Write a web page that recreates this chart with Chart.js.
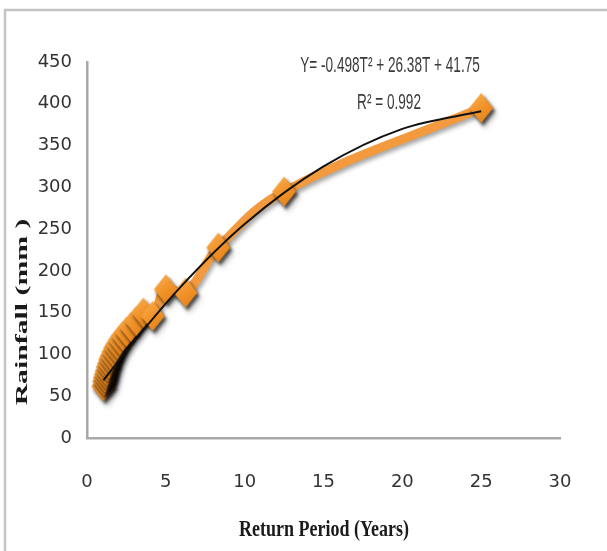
<!DOCTYPE html>
<html>
<head>
<meta charset="utf-8">
<script src="https://cdn.jsdelivr.net/npm/chart.js@4.4.1/dist/chart.umd.min.js"></script>
<style>
  html, body { margin: 0; padding: 0; background: #fff; }
  canvas { display: block; }
</style>
</head>
<body>
<canvas id="c" width="607" height="551"></canvas>
<script>
const returnPeriods = [1.04, 1.09, 1.14, 1.19, 1.25, 1.32, 1.39, 1.47, 1.56, 1.67, 1.79, 1.92,
                       2.08, 2.27, 2.5, 2.78, 3.125, 3.57, 4.17, 5, 6.25, 8.33, 12.5, 25];
const rainfall = [62, 68, 72, 76, 80, 85, 89, 94, 98, 103, 108, 112,
                  117, 122, 127, 133, 140, 150, 146, 178, 174, 228, 295, 395];
// Trend curve at a few return periods
const trendT = [1.04, 3, 6, 10, 15, 20, 25];
const trendY = [69, 116, 182, 256, 325, 370, 391];
const xTicks = [0, 5, 10, 15, 20, 25, 30];
const yTicks = [0, 50, 100, 150, 200, 250, 300, 350, 400, 450];
const equationText = 'Y= -0.498T\u00B2 + 26.38T + 41.75';
const r2Text = 'R\u00B2 = 0.992';
const xTitle = 'Return Period (Years)';
const yTitle = 'Rainfall (mm )';

const tickFamily = "'DejaVu Sans', 'Liberation Sans', sans-serif";
const sans = "'Liberation Sans', sans-serif";
const serif = "'Liberation Serif', 'DejaVu Serif', serif";

// Diamond marker image
function makeDiamond() {
  const w = 24, h = 30, pad = 6;
  const cv = document.createElement('canvas');
  cv.width = w + pad * 2; cv.height = h + pad * 2;
  const g = cv.getContext('2d');
  const cx = cv.width / 2, cy = cv.height / 2;
  g.shadowColor = 'rgba(0,0,0,0.55)';
  g.shadowBlur = 3; g.shadowOffsetX = 2; g.shadowOffsetY = 3;
  const grad = g.createLinearGradient(cx - w / 2, cy - h / 2, cx + w / 2, cy + h / 2);
  grad.addColorStop(0, '#f9b257');
  grad.addColorStop(0.5, '#f2932a');
  grad.addColorStop(1, '#e07c12');
  g.fillStyle = grad;
  g.beginPath();
  g.moveTo(cx, cy - h / 2);
  g.lineTo(cx + w / 2, cy);
  g.lineTo(cx, cy + h / 2);
  g.lineTo(cx - w / 2, cy);
  g.closePath();
  g.fill();
  return cv;
}
const diamond = makeDiamond();

const mainData = returnPeriods.map((t, i) => ({ x: t, y: rainfall[i] }));
const trendData = trendT.map((t, i) => ({ x: t, y: trendY[i] }));

const decor = {
  id: 'decor',
  beforeDraw(chart) {
    const ctx = chart.ctx;
    ctx.save();
    ctx.fillStyle = '#fff';
    ctx.fillRect(0, 0, chart.width, chart.height);
    ctx.strokeStyle = '#c4c4c4';
    ctx.lineWidth = 2.5;
    ctx.strokeRect(5, 10, 700, 700);
    ctx.restore();
  },
  beforeDatasetDraw(chart, args) {
    if (args.index === 1) {
      const ctx = chart.ctx;
      ctx.save();
      ctx.shadowColor = 'rgba(0,0,0,0.35)';
      ctx.shadowBlur = 4; ctx.shadowOffsetX = 2; ctx.shadowOffsetY = 3;
    }
  },
  afterDatasetDraw(chart, args) {
    if (args.index === 1) chart.ctx.restore();
  },
  afterDraw(chart) {
    const ctx = chart.ctx;
    ctx.save();
    ctx.fillStyle = '#3a3a3a';
    ctx.textAlign = 'center';
    ctx.textBaseline = 'middle';
    ctx.font = '17px ' + sans;
    ctx.save();
    ctx.translate(390, 66); ctx.scale(0.8, 1.25);
    ctx.fillText(equationText, 0, 0);
    ctx.restore();
    ctx.save();
    ctx.translate(389, 103); ctx.scale(0.8, 1.25);
    ctx.fillText(r2Text, 0, 0);
    ctx.restore();
    // x title
    ctx.fillStyle = '#1a1a1a';
    ctx.save();
    ctx.translate(324, 530);
    ctx.scale(1.0, 1.3);
    ctx.font = 'bold 18px ' + serif;
    ctx.fillText(xTitle, 0, 0);
    ctx.restore();
    // y title
    ctx.save();
    ctx.translate(23, 312);
    ctx.rotate(-Math.PI / 2);
    ctx.scale(1.75, 1);
    ctx.font = 'bold 17px ' + serif;
    ctx.fillText(yTitle, 0, 0);
    ctx.restore();
    ctx.restore();
  }
};

new Chart(document.getElementById('c'), {
  type: 'scatter',
  data: {
    datasets: [
      {
        label: 'Poly. trend',
        data: trendData,
        showLine: true,
        borderColor: '#111',
        borderWidth: 2,
        pointRadius: 0,
        cubicInterpolationMode: 'monotone',
        order: 0
      },
      {
        label: 'Rainfall',
        data: mainData,
        showLine: true,
        borderColor: '#f39a3e',
        borderWidth: 9,
        tension: 0.4,
        pointStyle: diamond,
        pointRadius: 12,
        order: 1
      }
    ]
  },
  options: {
    responsive: false,
    animation: false,
    layout: { padding: { left: 0, top: 62, right: 47, bottom: 0 } },
    plugins: { legend: { display: false }, tooltip: { enabled: false } },
    scales: {
      x: {
        type: 'linear', min: 0, max: 30,
        afterBuildTicks(s) { s.ticks = xTicks.map(v => ({ value: v })); },
        afterFit(s) { s.height = 113; },
        grid: { display: false, drawTicks: false },
        border: { display: true, color: '#a8a8a8', width: 2.5 },
        ticks: { padding: 34, color: '#333', font: { family: tickFamily, size: 18, style: 'condensed' }, maxRotation: 0 }
      },
      y: {
        type: 'linear', min: 0, max: 450,
        afterBuildTicks(s) { s.ticks = yTicks.map(v => ({ value: v })); },
        afterFit(s) { s.width = 87; },
        grid: { display: false, drawTicks: false },
        border: { display: true, color: '#a8a8a8', width: 2.5 },
        ticks: { padding: 15, color: '#333', font: { family: tickFamily, size: 18, style: 'condensed' } }
      }
    }
  },
  plugins: [decor]
});
</script>
</body>
</html>
